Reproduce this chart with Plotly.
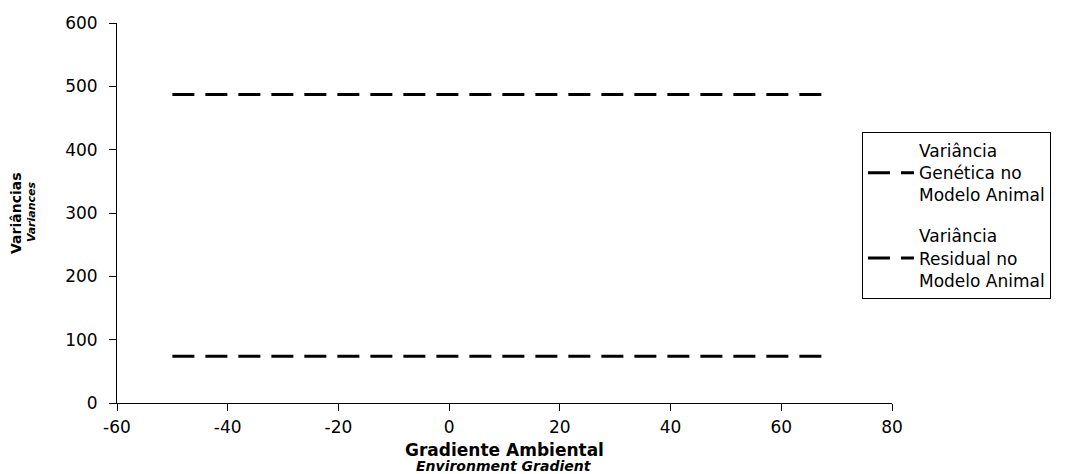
import plotly.graph_objects as go

# Environment gradient span covered by both variance curves
gradient = [-50, 68]
# Variance components estimated under the animal model (constant along the gradient)
genetic_var = [487, 487]
residual_var = [74, 74]

series_names = [
    "Variância<br>Genética no<br>Modelo Animal",
    "Variância<br>Residual no<br>Modelo Animal",
]

x_ticks = [-60, -40, -20, 0, 20, 40, 60, 80]
x_ticktext = ["-60", "-40", "-20", "0", "20", "40", "60", "80"]
y_ticks = [0, 100, 200, 300, 400, 500, 600]

FONT = "DejaVu Sans, Liberation Sans, sans-serif"
dash_style = dict(color="black", width=3, dash="22px,11px")

W, H = 1083, 474
ML, MR, MT, MB = 117, 191, 23, 71
PW, PH = W - ML - MR, H - MT - MB


def px_to_paper(px, py):
    """Convert page pixel position to paper coordinates."""
    return (px - ML) / PW, (H - MB - py) / PH


fig = go.Figure()
for i, (vals, name) in enumerate(zip([genetic_var, residual_var], series_names)):
    fig.add_trace(go.Scatter(
        x=gradient, y=vals, mode="lines", name=name,
        line=dash_style, legendgroup=f"g{i}",
    ))

axis_common = dict(
    showgrid=False, zeroline=False, showline=True, linecolor="black",
    linewidth=1, ticks="outside", ticklen=7, tickcolor="black",
    tickfont=dict(family=FONT, size=17, color="black"),
)

# Two-line axis titles (Portuguese in bold, English in bold italic below)
titles = [
    ("<b>Gradiente Ambiental</b>", 17, 0, px_to_paper(504, 450)),
    ("<b><i>Environment Gradient</i></b>", 14, 0, px_to_paper(504, 466)),
    ("<b>Variâncias</b>", 14, -90, px_to_paper(16, 213)),
    ("<b><i>Variances</i></b>", 11, -90, px_to_paper(31, 212)),
]
annotations = [
    dict(text=t, font=dict(family=FONT, size=s, color="black"), textangle=a,
         xref="paper", yref="paper", x=pos[0], y=pos[1],
         xanchor="center", yanchor="middle", showarrow=False)
    for t, s, a, pos in titles
]

lx, ly = px_to_paper(862, 132)
fig.update_layout(
    width=W, height=H,
    margin=dict(l=ML, r=MR, t=MT, b=MB, autoexpand=False),
    plot_bgcolor="white", paper_bgcolor="white",
    font=dict(family=FONT, color="black"),
    xaxis=dict(range=[-60, 80], tickvals=x_ticks, ticktext=x_ticktext,
               ticklabelstandoff=2, **axis_common),
    yaxis=dict(range=[0, 600], tickvals=y_ticks, ticklabelstandoff=8,
               **axis_common),
    annotations=annotations,
    legend=dict(
        x=lx, xanchor="left", y=ly, yanchor="top",
        bordercolor="black", borderwidth=1, bgcolor="white",
        font=dict(family=FONT, size=17, color="black"),
        itemwidth=46,
        traceorder="grouped", tracegroupgap=16,
    ),
)

fig.write_html("out.html")
